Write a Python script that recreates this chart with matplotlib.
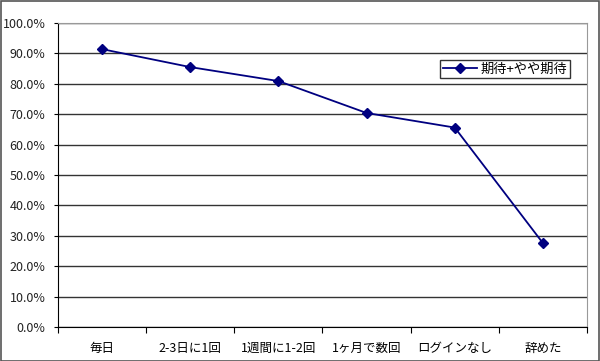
import matplotlib
matplotlib.use("Agg")
import matplotlib.pyplot as plt
from matplotlib.ticker import FuncFormatter, MultipleLocator
from matplotlib.patches import Rectangle

plt.rcParams['font.family'] = ['Noto Sans CJK JP', 'DejaVu Sans']

categories = ["毎日", "2-3日に1回", "1週間に1-2回", "1ヶ月で数回", "ログインなし", "辞めた"]
values = [91.4, 85.5, 80.9, 70.4, 65.6, 27.6]
series_name = "期待+やや期待"

W, H = 600, 361
fig = plt.figure(figsize=(W/100, H/100), dpi=100)
ax = fig.add_axes([58/W, 1-327/H, (587-58)/W, (327-23)/H])

x = list(range(len(categories)))
ax.plot(x, [v/100 for v in values], color='#000080', lw=1.3, marker='D', ms=5.5,
        mfc='#000080', mec='#000080', label=series_name, zorder=3)

ax.set_xlim(-0.5, len(categories)-0.5)
ax.set_ylim(0, 1.0)
ax.yaxis.set_major_locator(MultipleLocator(0.1))
ax.yaxis.set_major_formatter(FuncFormatter(lambda v, p: f"{v*100:.1f}%"))
ax.grid(axis='y', color='#333333', lw=1)
ax.set_axisbelow(True)

ax.set_xticks([i-0.5 for i in range(len(categories)+1)])
ax.set_xticklabels([])
ax.set_xticks(x, minor=True)
ax.set_xticklabels(categories, minor=True, fontsize=9)
ax.tick_params(axis='x', which='major', direction='out', length=4, color='black')
ax.tick_params(axis='x', which='minor', length=0, pad=11)
ax.tick_params(axis='y', length=3, direction='out', labelsize=9, pad=6)
for lbl in ax.get_yticklabels():
    lbl.set_color('#222222')

ax.spines['left'].set_color('black')
ax.spines['bottom'].set_color('black')
ax.spines['top'].set_color('#999999')
ax.spines['right'].set_color('#999999')

leg = ax.legend(loc='upper left', bbox_to_anchor=((440-58)/529, 1-(60-23)/304),
                frameon=True, fancybox=False, fontsize=9.5, borderpad=0.2,
                handlelength=2.6, handletextpad=0.3, borderaxespad=0)
leg.get_frame().set_edgecolor('black')
leg.get_frame().set_linewidth(1)

fig.patches.append(Rectangle((0.5/W, 0.5/H), 1-1.5/W, 1-1.5/H, transform=fig.transFigure,
                             fill=False, edgecolor='#555555', lw=1.2))

fig.savefig('out.png', dpi=100)
